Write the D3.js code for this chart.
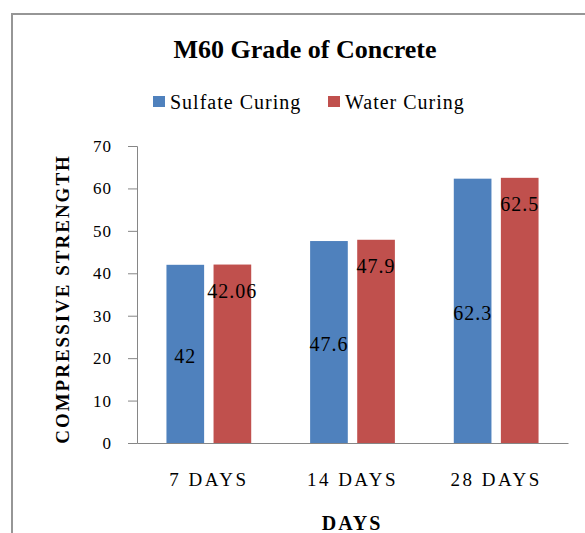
<!doctype html>
<html lang="en">
<head>
  <meta charset="utf-8">
  <title>M60 Grade of Concrete</title>
  <script src="https://d3js.org/d3.v7.min.js"></script>
  <style>
    body { margin: 0; background: #fff; }
  </style>
</head>
<body>
  <div id="chart"></div>
  <script type="text/javascript">

    var width = 585, height = 533;
    var serif = '"Liberation Serif", "Times New Roman", "DejaVu Serif", serif';

    // data
    var categories = ['7 DAYS', '14 DAYS', '28 DAYS'];
    var seriesNames = ['Sulfate Curing', 'Water Curing'];
    var sulfate = [42, 47.6, 62.3];
    var water = [42.06, 47.9, 62.5];
    var sulfateLabels = ['42', '47.6', '62.3'];
    var waterLabels = ['42.06', '47.9', '62.5'];
    var yTicks = [0, 10, 20, 30, 40, 50, 60, 70];

    var colors = ['#4F81BD', '#C0504D'];

    var svg = d3.select('#chart')
                .append('svg')
                .attr('width', width)
                .attr('height', height)
                .attr('font-family', serif);

    // outer frame (runs off the right and bottom edges)
    svg.append('rect')
       .attr('x', 12).attr('y', 14)
       .attr('width', 600).attr('height', 560)
       .attr('fill', 'none')
       .attr('stroke', '#969696')
       .attr('stroke-width', 2);

    var x0 = d3.scaleBand()
               .domain(categories)
               .range([137, 568])
               .paddingInner(0.41)
               .paddingOuter(0.205);

    var x1 = d3.scaleBand()
               .domain(seriesNames)
               .range([0, x0.bandwidth()])
               .paddingInner(0.2);

    var y = d3.scaleLinear()
              .domain([0, 70])
              .range([443, 146]);

    // title
    svg.append('text')
       .attr('x', 305).attr('y', 58)
       .attr('text-anchor', 'middle')
       .attr('font-family', serif)
       .attr('font-size', 26)
       .attr('font-weight', 'bold')
       .text('M60 Grade of Concrete');

    // legend
    var legendX = [153, 328];
    var legend = svg.selectAll('.legend')
                    .data(seriesNames)
                    .enter()
                    .append('g')
                    .attr('class', 'legend')
                    .attr('transform', function(d, i) { return 'translate(' + legendX[i] + ',96)'; });

    legend.append('rect')
          .attr('width', 12).attr('height', 11)
          .attr('fill', function(d, i) { return colors[i]; });

    legend.append('text')
          .attr('x', 17).attr('y', 13)
          .attr('font-family', serif)
          .attr('font-size', 20)
          .attr('letter-spacing', 1)
          .text(function(d) { return d; });

    // y axis
    var yAxis = d3.axisLeft(y)
                  .tickValues(yTicks)
                  .tickSize(9)
                  .tickPadding(16)
                  .tickFormat(d3.format('d'));

    var gy = svg.append('g')
                .attr('transform', 'translate(137,0)')
                .call(yAxis)
                .attr('font-family', serif);
    gy.selectAll('path, line').attr('stroke', '#868686');
    gy.selectAll('text')
      .attr('font-size', 17)
      .attr('letter-spacing', 1);

    // x axis
    var xAxis = d3.axisBottom(x0).tickSize(0).tickPadding(30);
    var gx = svg.append('g')
                .attr('transform', 'translate(0,443)')
                .call(xAxis)
                .attr('font-family', serif);
    gx.select('.domain').attr('stroke', '#868686');
    gx.selectAll('text')
      .attr('font-size', 19)
      .attr('letter-spacing', 2.5);

    // bars
    var rows = categories.map(function(c, i) {
      return [
        { cat: c, s: 0, v: sulfate[i], label: sulfateLabels[i] },
        { cat: c, s: 1, v: water[i], label: waterLabels[i] }
      ];
    });

    var groups = svg.selectAll('.group')
                    .data(rows)
                    .enter()
                    .append('g')
                    .attr('class', 'group')
                    .attr('transform', function(d, i) { return 'translate(' + x0(categories[i]) + ',0)'; });

    groups.selectAll('rect')
          .data(function(d) { return d; })
          .enter()
          .append('rect')
          .attr('x', function(d) { return x1(seriesNames[d.s]); })
          .attr('y', function(d) { return y(d.v); })
          .attr('width', x1.bandwidth())
          .attr('height', function(d) { return y(0) - y(d.v); })
          .attr('fill', function(d) { return colors[d.s]; });

    // data labels: sulfate centred in bar, water near the top
    groups.selectAll('.lbl')
          .data(function(d) { return d; })
          .enter()
          .append('text')
          .attr('class', 'lbl')
          .attr('x', function(d) { return x1(seriesNames[d.s]) + x1.bandwidth() / 2; })
          .attr('y', function(d) {
            return d.s === 0 ? (y(d.v) + y(0)) / 2 + 2 : y(d.v) + 26;
          })
          .attr('dy', '0.35em')
          .attr('text-anchor', 'middle')
          .attr('font-family', serif)
          .attr('font-size', 20)
          .attr('letter-spacing', 1)
          .text(function(d) { return d.label; });

    // axis titles
    svg.append('text')
       .attr('transform', 'translate(69,299) rotate(-90)')
       .attr('text-anchor', 'middle')
       .attr('font-family', serif)
       .attr('font-size', 19)
       .attr('font-weight', 'bold')
       .attr('letter-spacing', 2)
       .text('COMPRESSIVE STRENGTH');

    svg.append('text')
       .attr('x', 352).attr('y', 530)
       .attr('text-anchor', 'middle')
       .attr('font-family', serif)
       .attr('font-size', 20)
       .attr('font-weight', 'bold')
       .attr('letter-spacing', 2)
       .text('DAYS');

  </script>
</body>
</html>
